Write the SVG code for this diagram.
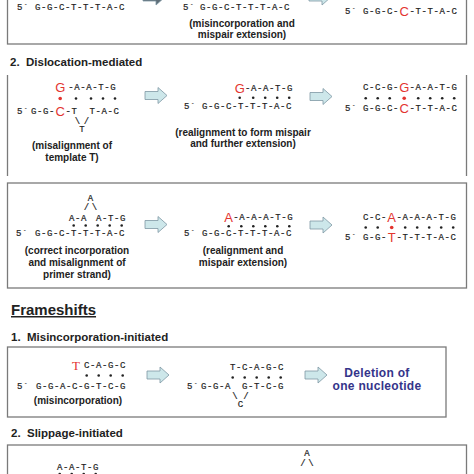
<svg xmlns="http://www.w3.org/2000/svg" xmlns:xlink="http://www.w3.org/1999/xlink" width="474" height="474" viewBox="0 0 474 474">
<style>
.m{font-family:"Liberation Mono","DejaVu Sans Mono",monospace;font-size:9px;letter-spacing:0.6px;fill:#1e1e1e;stroke:#1e1e1e;stroke-width:0.2}
.mc{font-family:"Liberation Mono","DejaVu Sans Mono",monospace;font-size:9px;fill:#1e1e1e;stroke:#1e1e1e;stroke-width:0.2;text-anchor:middle}
.r{font-family:"Liberation Sans",Arial,sans-serif;font-size:13px;fill:#e3342f;text-anchor:middle}
.rs{font-family:"Liberation Serif","Times New Roman",serif;font-size:13px;fill:#e3342f;text-anchor:middle}
.lb{font-family:"Liberation Sans",Arial,sans-serif;font-weight:bold;font-size:10px;fill:#222;text-anchor:middle}
.h{font-family:"Liberation Sans",Arial,sans-serif;font-weight:bold;font-size:11.5px;fill:#222}
.h1{font-family:"Liberation Sans",Arial,sans-serif;font-weight:bold;font-size:15px;fill:#222;text-decoration:underline}
.dl{font-family:"Liberation Sans",Arial,sans-serif;font-weight:bold;font-size:12px;fill:#34348a;text-anchor:middle;letter-spacing:0.3px}
.box{fill:none;stroke:#7a7a7a;stroke-width:1.3}
.d{fill:#222}
.rd{fill:#e3342f}
.arrow{fill:#cde7ea;stroke:#7d97a3;stroke-width:0.8}
</style>
<defs>
<path id="arr" d="M0,-4H13V-8L22,0L13,8V4H0Z"/>
</defs>
<rect width="474" height="474" fill="#fff"/>

<g id="box1">
<rect class="box" x="7.5" y="-20" width="459" height="64"/>
<text class="m" x="17" y="10">5´</text>
<text class="m" x="35" y="10">G-G-C-T-T-T-A-C</text>
<text class="m" x="183" y="9.5">5´</text>
<text class="m" x="200" y="9.5">G-G-C-T-T-T-A-C</text>
<text class="lb" x="242" y="26.5">(misincorporation and</text>
<text class="lb" x="242" y="37.5">mispair extension)</text>
<text class="m" x="345" y="14">5´</text>
<text class="m" x="363" y="14">G-G-C-</text>
<text class="r" x="404.2" y="16">C</text>
<text class="m" x="409.5" y="14">-T-T-A-C</text>
</g>

<text id="h2" class="h" x="10" y="66" xml:space="preserve">2.  Dislocation-mediated</text>

<g id="box2">
<path class="box" d="M7.5 75V176M466.5 75V176"/>
<text class="r" x="60.2" y="91.8">G</text>
<text class="m" x="68.3" y="89.8">-A-A-T-G</text>
<circle class="rd" cx="60.2" cy="98.5" r="1.8"/>
<circle class="d" cx="76" cy="98.5" r="1.3"/>
<circle class="d" cx="91" cy="98.5" r="1.3"/>
<circle class="d" cx="103" cy="98.5" r="1.3"/>
<circle class="d" cx="115" cy="98.5" r="1.3"/>
<text class="m" x="17" y="114.4">5´</text>
<text class="m" x="31" y="114.4">G-G-</text>
<text class="r" x="60.2" y="116.4">C</text>
<text class="m" x="65.5" y="114.4" xml:space="preserve">-T  T-A-C</text>
<text class="mc" x="77.5" y="123.5">\</text>
<text class="mc" x="86.5" y="123.5">/</text>
<text class="mc" x="82" y="132">T</text>
<text class="lb" x="72" y="149">(misalignment of</text>
<text class="lb" x="72" y="161">template T)</text>

<text class="r" x="239.7" y="92.8">G</text>
<text class="m" x="245" y="90.8">-A-A-T-G</text>
<circle class="d" cx="239.7" cy="97.8" r="1.3"/>
<circle class="d" cx="253.2" cy="97.8" r="1.3"/>
<circle class="d" cx="265.2" cy="97.8" r="1.3"/>
<circle class="d" cx="277.2" cy="97.8" r="1.3"/>
<circle class="d" cx="289.2" cy="97.8" r="1.3"/>
<text class="m" x="184" y="108.6">5´</text>
<text class="m" x="202" y="108.6">G-G-C-T-T-T-A-C</text>
<text class="lb" x="243" y="135.5">(realignment to form mispair</text>
<text class="lb" x="243" y="147">and further extension)</text>

<text class="m" x="363" y="89.8">C-C-G-</text>
<text class="r" x="404.2" y="91.8">G</text>
<text class="m" x="409.5" y="89.8">-A-A-T-G</text>
<circle class="d" cx="365.7" cy="98.3" r="1.3"/>
<circle class="d" cx="377.7" cy="98.3" r="1.3"/>
<circle class="d" cx="389.7" cy="98.3" r="1.3"/>
<circle class="rd" cx="404.2" cy="98.3" r="1.8"/>
<circle class="d" cx="418.2" cy="98.3" r="1.3"/>
<circle class="d" cx="430.2" cy="98.3" r="1.3"/>
<circle class="d" cx="442.2" cy="98.3" r="1.3"/>
<circle class="d" cx="454.2" cy="98.3" r="1.3"/>
<text class="m" x="345" y="110.6">5´</text>
<text class="m" x="363" y="110.6">G-G-C-</text>
<text class="r" x="404.2" y="112.6">C</text>
<text class="m" x="409.5" y="110.6">-T-T-A-C</text>
</g>

<g id="box3">
<rect class="box" x="7.5" y="183" width="459" height="105"/>
<text class="mc" x="90.5" y="200.5">A</text>
<text class="mc" x="86.5" y="210">/</text>
<text class="mc" x="94.5" y="210">\</text>
<text class="m" x="69" y="220.8">A-A</text>
<text class="m" x="96" y="220.8">A-T-G</text>
<circle class="d" cx="73.7" cy="225.5" r="1.3"/>
<circle class="d" cx="85.7" cy="225.5" r="1.3"/>
<circle class="d" cx="97.7" cy="225.5" r="1.3"/>
<circle class="d" cx="109.7" cy="225.5" r="1.3"/>
<circle class="d" cx="121.7" cy="225.5" r="1.3"/>
<text class="m" x="16" y="236">5´</text>
<text class="m" x="35" y="236">G-G-C-T-T-T-A-C</text>
<text class="lb" x="77" y="253.5">(correct incorporation</text>
<text class="lb" x="77" y="265.5">and misalignment of</text>
<text class="lb" x="77" y="277.5">primer strand)</text>

<text class="r" x="228.7" y="221.8">A</text>
<text class="m" x="233.3" y="219.8">-A-A-A-T-G</text>
<circle class="d" cx="228.7" cy="226.3" r="1.3"/>
<circle class="d" cx="241.3" cy="226.3" r="1.3"/>
<circle class="d" cx="253.3" cy="226.3" r="1.3"/>
<circle class="d" cx="265.3" cy="226.3" r="1.3"/>
<circle class="d" cx="277.3" cy="226.3" r="1.3"/>
<circle class="d" cx="289.3" cy="226.3" r="1.3"/>
<text class="m" x="184" y="236">5´</text>
<text class="m" x="202" y="236">G-G-C-T-T-T-A-C</text>
<text class="lb" x="243" y="253.5">(realignment and</text>
<text class="lb" x="243" y="265.5">mispair extension)</text>

<text class="m" x="363" y="219.8">C-C-</text>
<text class="r" x="391.7" y="221.8">A</text>
<text class="m" x="396.5" y="219.8">-A-A-A-T-G</text>
<circle class="d" cx="365.7" cy="227.5" r="1.3"/>
<circle class="d" cx="377.7" cy="227.5" r="1.3"/>
<circle class="rd" cx="391.7" cy="227.5" r="1.8"/>
<circle class="d" cx="405.2" cy="227.5" r="1.3"/>
<circle class="d" cx="417.2" cy="227.5" r="1.3"/>
<circle class="d" cx="429.2" cy="227.5" r="1.3"/>
<circle class="d" cx="441.2" cy="227.5" r="1.3"/>
<circle class="d" cx="453.2" cy="227.5" r="1.3"/>
<text class="m" x="345" y="240">5´</text>
<text class="m" x="363" y="240">G-G-</text>
<text class="r" x="391.7" y="242">T</text>
<text class="m" x="396.5" y="240">-T-T-T-A-C</text>
</g>

<text id="frameshifts" class="h1" x="11" y="315">Frameshifts</text>
<text id="h1mis" class="h" x="11" y="341" xml:space="preserve">1.  Misincorporation-initiated</text>

<g id="box4">
<rect class="box" x="7.5" y="347" width="438.5" height="70"/>
<text class="rs" x="76" y="369.5">T</text>
<text class="m" x="84" y="367.8">C-A-G-C</text>
<circle class="d" cx="86.7" cy="375.5" r="1.3"/>
<circle class="d" cx="98.7" cy="375.5" r="1.3"/>
<circle class="d" cx="110.7" cy="375.5" r="1.3"/>
<circle class="d" cx="122.7" cy="375.5" r="1.3"/>
<text class="m" x="17" y="388.8">5´</text>
<text class="m" x="36" y="388.8">G-G-A-C-G-T-C-G</text>
<text class="lb" x="78" y="403.5">(misincorporation)</text>

<text class="m" x="230" y="369.8">T-C-A-G-C</text>
<circle class="d" cx="232.7" cy="377.5" r="1.3"/>
<circle class="d" cx="244.7" cy="377.5" r="1.3"/>
<circle class="d" cx="256.7" cy="377.5" r="1.3"/>
<circle class="d" cx="268.7" cy="377.5" r="1.3"/>
<circle class="d" cx="280.7" cy="377.5" r="1.3"/>
<text class="m" x="187" y="388.8">5´</text>
<text class="m" x="201" y="388.8">G-G-A</text>
<text class="m" x="242" y="388.8">G-T-C-G</text>
<text class="mc" x="235" y="399">\</text>
<text class="mc" x="246" y="399">/</text>
<text class="mc" x="240.5" y="407">C</text>

<text class="dl" x="377" y="377">Deletion of</text>
<text class="dl" x="377" y="390">one nucleotide</text>
</g>

<text id="h2slip" class="h" x="11" y="437" xml:space="preserve">2.  Slippage-initiated</text>

<g id="box5">
<rect class="box" x="7.5" y="445" width="459" height="60"/>
<text class="m" x="57" y="469.5">A-A-T-G</text>
<circle class="d" cx="59.7" cy="474" r="1.3"/>
<circle class="d" cx="71.7" cy="474" r="1.3"/>
<circle class="d" cx="83.7" cy="474" r="1.3"/>
<circle class="d" cx="95.7" cy="474" r="1.3"/>
<text class="mc" x="307" y="456">A</text>
<text class="mc" x="303" y="466">/</text>
<text class="mc" x="311" y="466">\</text>
</g>

<g id="connectors">
<use xlink:href="#arr" class="arrow" style="fill:#5f6e78" transform="translate(143,-3)"/>
<use xlink:href="#arr" class="arrow" transform="translate(309,-3)"/>
<use xlink:href="#arr" class="arrow" transform="translate(145,95.5)"/>
<use xlink:href="#arr" class="arrow" transform="translate(310,96.5)"/>
<use xlink:href="#arr" class="arrow" transform="translate(145,224.5)"/>
<use xlink:href="#arr" class="arrow" transform="translate(310,225)"/>
<use xlink:href="#arr" class="arrow" transform="translate(147,375)"/>
<use xlink:href="#arr" class="arrow" transform="translate(305,375)"/>
</g>
</svg>
